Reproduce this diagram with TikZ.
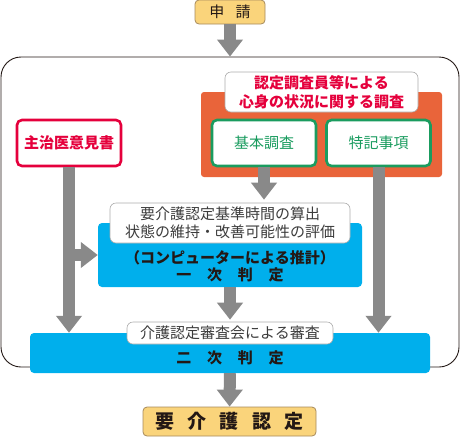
\documentclass[tikz,border=0pt]{standalone}
\usepackage{fontspec}
\usepackage{xcolor}
\usetikzlibrary{arrows.meta}
\newfontfamily\jp{Noto Sans CJK JP}
\definecolor{applyfill}{HTML}{FAD47B}
\definecolor{applyline}{HTML}{A68A5C}
\definecolor{surveyorange}{HTML}{E9643A}
\definecolor{checkgreen}{HTML}{1A9C5F}
\definecolor{doctorred}{HTML}{E5003C}
\definecolor{judgeblue}{HTML}{00AFEC}
\definecolor{flowgray}{HTML}{898989}
\definecolor{inkdark}{HTML}{231815}
\definecolor{notegray}{HTML}{3C3C3C}
\newcommand{\jgap}[1]{\hspace{#1em}}
\tikzset{
  flow/.style={draw=flowgray, line width=12pt, -{Triangle[width=25pt,length=17pt]}},
  tag/.style={draw=flowgray!70, fill=white, rounded corners=6pt, line width=0.6pt, inner sep=0pt, align=center},
  doc/.style={draw, fill=white, rounded corners=5pt, line width=2.6pt, inner sep=0pt, minimum width=104pt, minimum height=46pt},
  judge/.style={fill=judgeblue, rounded corners=4pt, inner sep=0pt},
  result/.style={draw=applyline, fill=applyfill, rounded corners=4pt, line width=0.8pt, inner sep=0pt, text=inkdark}
}

\begin{document}
\begin{tikzpicture}[x=1pt, y=-1pt, font=\jp\fontsize{15}{19}\selectfont]

    \useasboundingbox (0,0) rectangle (460,437);

    \node [draw=inkdark, line width=0.9pt, rounded corners=20pt, minimum width=458pt, minimum height=310pt] (frame) at (230, 212) {};
    \node [fill=surveyorange, rounded corners=3pt, minimum width=241pt, minimum height=85pt] (survey) at (321.5, 134.5) {};

    \node [result, minimum width=70pt, minimum height=24pt] (apply) at (230, 12) {申\jgap{0.75}請};
    \node [tag, minimum width=193pt, minimum height=40pt, text=doctorred] (surveytitle) at (321.5, 92) {\bfseries 認定調査員等による\\ \bfseries 心身の状況に関する調査};
    \node [doc, draw=checkgreen, text=checkgreen] (kihon) at (264, 143) {基本調査};
    \node [doc, draw=checkgreen, text=checkgreen] (tokki) at (378.5, 143) {特記事項};
    \node [doc, draw=doctorred, text=doctorred] (shuji) at (69, 143) {\bfseries 主治医意見書};

    \node [judge, minimum width=264pt, minimum height=64pt] (ichiji) at (230, 255) {};
    \node [judge, minimum width=400pt, minimum height=40pt] (niji) at (230, 353) {};
    \node [result, minimum width=173pt, minimum height=29pt] (final) at (229.5, 421.5) {\fontsize{19}{21}\selectfont\bfseries 要\jgap{0.7}介\jgap{0.7}護\jgap{0.7}認\jgap{0.7}定};

    \node [tag, minimum width=240pt, minimum height=40pt, text=notegray, font=\jp\fontsize{15}{18}\selectfont] (ichijitag) at (230, 223) {要介護認定基準時間の算出\\状態の維持・改善可能性の評価};
    \node [tag, minimum width=206pt, minimum height=22pt, text=notegray] (nijitag) at (230, 333) {介護認定審査会による審査};
    \node [text=inkdark, align=center, font=\jp\fontsize{15}{17}\selectfont\bfseries] (ichijitext) at (230, 266) {（コンピューターによる推計）\\一\jgap{1.05}次\jgap{1.05}判\jgap{1.05}定};
    \node [text=inkdark, font=\jp\fontsize{15}{17}\selectfont\bfseries] (nijitext) at (230, 358) {二\jgap{1.05}次\jgap{1.05}判\jgap{1.05}定};

    \coordinate (branch) at (shuji |- ichiji.west);

    \draw [flow] (apply) to (frame.north);
    \draw [flow] (kihon) to ([yshift=3pt]kihon |- ichijitag.north);
    \draw [flow] (shuji) to (shuji |- niji.north);
    \draw [flow] (tokki) to (tokki |- niji.north);
    \draw [flow] (branch) to (ichiji.west);
    \draw [flow] (ichiji) to ([yshift=2pt]nijitag.north);
    \draw [flow] (niji) to (final);

\end{tikzpicture}
\end{document}
